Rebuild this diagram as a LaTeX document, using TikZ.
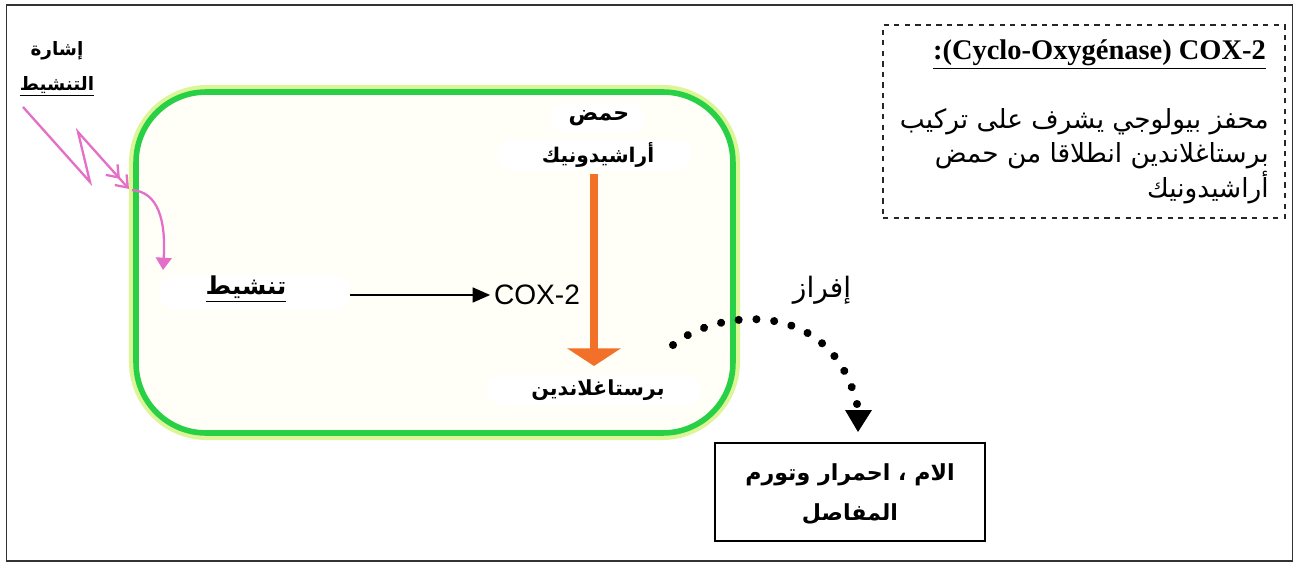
\documentclass[tikz,border=0pt]{standalone}
\usepackage{fontspec}
\setmainfont{Liberation Serif}
\newfontfamily\arabicfont[Script=Arabic]{DejaVu Sans}
\newfontfamily\helv{Liberation Sans}
\TeXXeTstate=1
\usetikzlibrary{arrows.meta,decorations.markings}
\definecolor{pinkarrow}{RGB}{228,110,200}
\definecolor{cellgreen}{RGB}{40,208,70}
\definecolor{cellglow}{RGB}{220,245,150}
\definecolor{cellfill}{RGB}{255,255,248}
\definecolor{orangearrow}{RGB}{242,112,40}
\tikzset{
  ar/.style={font=\arabicfont\fontsize{#1}{#1}\selectfont, inner sep=1pt},
  arb/.style={font=\arabicfont\bfseries\fontsize{#1}{#1}\selectfont, inner sep=1pt},
  ghost/.style={fill=white, rounded corners=0.3cm},
  pinkline/.style={draw=pinkarrow, line width=1.3pt},
  dotline/.style={decoration={markings,
      mark=between positions 0 and 0.95 step 0.076923 with {\fill (0,0) circle (2.3pt);}}, decorate},
}
\begin{document}
\begin{tikzpicture}[x=0.02cm,y=-0.02cm]
\useasboundingbox (0,0) rectangle (1299,564);
\fill[white] (0,0) rectangle (1299,564);
% outer frame
\node[draw=black!80, line width=0.9pt, minimum width=25.72cm, minimum height=11.12cm, inner sep=0pt] (frame) at (649.5,283) {};

% cell
\node[draw=cellglow, line width=3.5pt, rounded corners=1.5cm, minimum width=12.1cm, minimum height=6.98cm, inner sep=0pt] (glow) at (434.5,262.5) {};
\node[draw=cellgreen, fill=cellfill, line width=3.2pt, rounded corners=1.4cm, minimum width=11.94cm, minimum height=6.82cm, inner sep=0pt] (cell) at (434.5,262.5) {};

% dashed description box
\node[draw=black!85, dashed, line width=0.8pt, minimum width=8.04cm, minimum height=3.86cm, inner sep=0pt] (descbox) at (1084,121.5) {};
\node[anchor=east, font=\bfseries\fontsize{16.2}{19}\selectfont, inner sep=1pt] (title) at (1268,55) {\underline{:(Cyclo-Oxygénase) COX-2}};
\node[anchor=east, align=right, font=\arabicfont\fontsize{15}{19.8}\selectfont, inner sep=0pt] (desc) at (1269,156)
  {\beginR محفز بيولوجي  يشرف على تركيب\endR\\ \beginR برستاغلاندين انطلاقا من حمض\endR\\ \beginR أراشيدونيك\endR};

% signal label
\node[arb=10.5, align=center] (signal) at (57,69) {\beginR إشارة\endR\\[8.5pt] \underline{\beginR التنشيط\endR}};

% nodes inside the cell
\node[ghost, minimum width=3.8cm, minimum height=0.7cm] (tansheet) at (255,292) {};
\node[arb=14] (tansheetT) at (246,289) {\underline{\beginR تنشيط\endR}};
\node[font=\helv\fontsize{16}{18}\selectfont, inner sep=2pt] (cox) at (537,295) {COX-2};
\node[ghost, minimum width=1.9cm, minimum height=0.6cm] (hamdbg) at (598,118) {};
\node[arb=12.5] (hamd) at (599,118) {\beginR حمض\endR};
\node[ghost, minimum width=3.9cm, minimum height=0.6cm] (arachbg) at (594,155) {};
\node[arb=11.5] (arach) at (598,155) {\beginR أراشيدونيك\endR};
\node[ghost, minimum width=4.3cm, minimum height=0.6cm] (prostbg) at (594,390) {};
\node[arb=11.8] (prost) at (598,390) {\beginR برستاغلاندين\endR};

% secretion
\node[ar=16] (ifraz) at (822,290) {\beginR إفراز\endR};
\node[draw=black, line width=0.8pt, minimum width=5.4cm, minimum height=1.96cm, inner sep=0pt] (effectbox) at (850,492) {};
\node[arb=12.6, align=center] (effect) at (850,494) {\beginR الام ، احمرار وتورم\endR\\[9pt] \beginR المفاصل\endR};

% connectors
\draw[line width=1.1pt, -{Triangle[length=10pt,width=8.5pt]}] (tansheet.east) ++(0,3) -- (cox.west);
\draw[draw=orangearrow, line width=4.5pt, -{Triangle[length=10pt,width=30pt]}] (arachbg.south) ++(0,4) coordinate (oa) -- (oa |- 0,366) coordinate (ob);

% signal lightning
\coordinate (sigstart) at (23,107);
\coordinate (sighit) at (129,189);
\draw[pinkline, -{Straight Barb[length=6pt,width=9pt] Straight Barb[length=6pt,width=9pt]}] (sigstart) -- (90,182) -- (78,132) -- (sighit);
\coordinate (curvestart) at (132,190);
\draw[pinkline, -{Triangle[length=7pt,width=9pt]}] (curvestart) .. controls (158,192) and (166,220) .. (163,270);

% dotted secretion arc
\coordinate (secstart) at (673,345);
\coordinate (secend) at (857,404);
\coordinate (tip) at (858,432);
\path[dotline] (secstart) .. controls (715,310) and (830,295) .. (secend);
\fill (secend) circle (2.3pt);
\fill (tip) -- ++(-13,-22) -- ++(27,0) -- cycle;
\end{tikzpicture}
\end{document}
